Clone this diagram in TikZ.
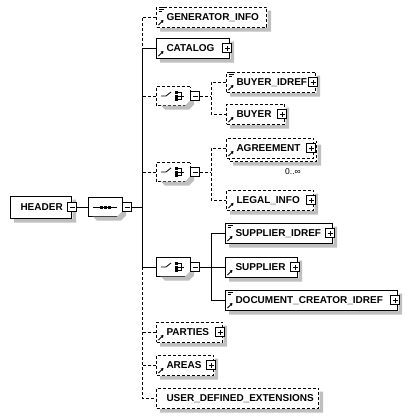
\documentclass[tikz,border=0pt]{standalone}
\usepackage{fontspec}
\setmainfont{Liberation Sans}
\usetikzlibrary{shapes.misc,arrows.meta,calc}
\definecolor{shadowgray}{rgb}{0.75,0.75,0.75}
\newcommand\elfont{\fontsize{10}{11}\selectfont\bfseries}
\newcommand\txtic[1]{\draw[line width=0.6pt] ([shift={(3pt,-0.5pt)}]#1.north west) -- ++(5,0) ([shift={(3pt,-2.5pt)}]#1.north west) -- ++(5,0) ([shift={(3pt,-4.5pt)}]#1.north west) -- ++(3,0);}
\newcommand\refic[1]{\draw[line width=0.9pt,-{Triangle[length=2.5pt,width=3pt]}] ([shift={(2.5pt,2.5pt)}]#1.south west) -- ++(5,-5);}
\newcommand\choiceic[1]{%
  \draw[line width=0.8pt] ([xshift=-12pt]#1.center) -- ++(5,0) -- ++(5,-4);
  \fill ([shift={(2pt,5pt)}]#1.center) rectangle ++(3,3);
  \fill ([shift={(2pt,1.5pt)}]#1.center) rectangle ++(3,3);
  \fill ([shift={(2pt,-2pt)}]#1.center) rectangle ++(3,3);
  \draw[line width=0.8pt] ([shift={(5pt,3.5pt)}]#1.center) -- ++(3,0) -- ++(0,7) -- ++(-3,0)
    ([xshift=5pt]#1.center) -- ++(6,0);}
\newcommand\seqic[1]{%
  \draw[line width=0.8pt] ([xshift=-12pt]#1.center) -- ([xshift=12pt]#1.center);
  \fill ([shift={(-5.5pt,1.5pt)}]#1.center) rectangle ++(3,3);
  \fill ([shift={(-1.5pt,1.5pt)}]#1.center) rectangle ++(3,3);
  \fill ([shift={(2.5pt,1.5pt)}]#1.center) rectangle ++(3,3);}
% L-shaped shadow right of and below a rectangular node
\newcommand\shr[1]{\fill[shadowgray] ([shift={(0.5pt,-4pt)}]#1.north east) rectangle ([shift={(4pt,-4pt)}]#1.south east) ([shift={(4pt,-0.5pt)}]#1.south west) rectangle ([shift={(0.5pt,-4pt)}]#1.south east);}
% crescent shadow of a compositor (34 x 19, chamfer 5)
\newcommand\shc[1]{\fill[shadowgray] ([shift={(16pt,5.5pt)}]#1.center) -- ++(5,5) -- ++(0,9) -- ++(-5,5) -- ++(-24,0) -- ++(-5,-5) -- ++(1,1) -- ++(24,0) -- ++(5,-5) -- ++(0,-9) -- cycle;}
\begin{document}
\begin{tikzpicture}[x=1pt,y=-1pt,line width=1pt,
  dsh/.style={dash pattern=on 3pt off 2pt},
  elbox/.style={draw,fill=white,rectangle,anchor=west,minimum height=20pt,inner sep=0pt,
    text height=7pt,text depth=0pt,align=left,font=\elfont},
  comp/.style={draw,fill=white,chamfered rectangle,chamfered rectangle xsep=5pt,
    minimum width=34pt,minimum height=19pt,inner sep=0pt},
  btn/.style={draw,fill=white,rectangle,minimum size=9pt,inner sep=0pt,line width=1pt},
  plusb/.style={btn,path picture={\draw[line width=1pt]
    ([xshift=2pt]path picture bounding box.west) -- ([xshift=-2pt]path picture bounding box.east)
    ([yshift=2pt]path picture bounding box.south) -- ([yshift=-2pt]path picture bounding box.north);}},
  minusb/.style={btn,path picture={\draw[line width=1pt]
    ([xshift=2pt]path picture bounding box.west) -- ([xshift=-2pt]path picture bounding box.east);}},
  mult/.style={font=\fontsize{8.5}{9}\selectfont}]
\useasboundingbox (0,0) rectangle (411,418);
\coordinate (tr) at (142,0);
\coordinate (br) at (211,0);
% root
\node[elbox,minimum height=22pt,text width=61pt] (header) at (10,207) {\hspace*{10pt}HEADER};
\shr{header}
\node[minusb] (headerm) at (72,207) {};
\node[comp] (seq) at (105,207) {};
\shc{seq}\seqic{seq}
\node[minusb] (seqm) at (127,207) {};
\draw (headerm.east) -- (seq.west);
\draw (seqm.east) -- (seqm.east -| tr);
% sequence children
\node[elbox,dsh,text width=110pt] (gen) at (156,17) {\hspace*{10pt}GENERATOR\_INFO};
\shr{gen}\txtic{gen}\refic{gen}
\node[elbox,text width=73pt] (cat) at (156,48) {\hspace*{10pt}CATALOG};
\shr{cat}
\node[plusb] (catp) at ([xshift=-3pt]cat.east) {};
\refic{cat}
\node[comp,dsh] (buych) at (173,96) {};
\shc{buych}\choiceic{buych}
\node[minusb] (buychm) at (195,96) {};
\node[comp,dsh] (agrch) at (173,172) {};
\shc{agrch}\choiceic{agrch}
\node[minusb] (agrchm) at (195,172) {};
\node[comp] (supch) at (173,267) {};
\shc{supch}\choiceic{supch}
\node[minusb] (supchm) at (195,267) {};
\node[elbox,dsh,text width=66pt] (parties) at (156,332) {\hspace*{10pt}PARTIES};
\shr{parties}
\node[plusb] (partiesp) at ([xshift=-3pt]parties.east) {};
\refic{parties}
\node[elbox,dsh,text width=57pt] (areas) at (156,365) {\hspace*{10pt}AREAS};
\shr{areas}
\node[plusb] (areasp) at ([xshift=-3pt]areas.east) {};
\refic{areas}
\node[elbox,dsh,text width=162pt] (udx) at (156,398) {\hspace*{10pt}USER\_DEFINED\_EXTENSIONS};
\shr{udx}
% trunk
\draw[dsh] (gen.west) -- (gen.west -| tr) -- (cat.west -| tr);
\draw (cat.west) -- (cat.west -| tr) -- (supch.west -| tr) -- (supch.west);
\draw[dsh] (supch.west -| tr) -- (udx.west -| tr) -- (udx.west);
\draw[dsh] (buych.west) -- (buych.west -| tr);
\draw[dsh] (agrch.west) -- (agrch.west -| tr);
\draw[dsh] (parties.west) -- (parties.west -| tr);
\draw[dsh] (areas.west) -- (areas.west -| tr);
% buyer choice
\node[elbox,dsh,text width=89pt] (buyidref) at (226,82) {\hspace*{10pt}BUYER\_IDREF};
\shr{buyidref}
\node[plusb] (buyidrefp) at ([xshift=-3pt]buyidref.east) {};
\txtic{buyidref}\refic{buyidref}
\node[elbox,dsh,text width=58pt] (buyer) at (226,114) {\hspace*{10pt}BUYER};
\shr{buyer}
\node[plusb] (buyerp) at ([xshift=-3pt]buyer.east) {};
\refic{buyer}
\draw[dsh] (buychm.east) -- (buychm.east -| br);
\draw[dsh] (buyidref.west) -- (buyidref.west -| br) -- (buyer.west -| br) -- (buyer.west);
% agreement choice
\node[elbox,dsh,text width=87pt] (agrback) at (229,151) {};
\shr{agrback}
\node[elbox,dsh,text width=87pt] (agr) at (226,148) {\hspace*{10pt}AGREEMENT};
\node[plusb] (agrp) at ([xshift=-3pt]agr.east) {};
\refic{agr}
\node[mult] (agrm) at (293,172) {0..∞};
\node[elbox,dsh,text width=87pt] (legal) at (226,200) {\hspace*{10pt}LEGAL\_INFO};
\shr{legal}
\node[plusb] (legalp) at ([xshift=-3pt]legal.east) {};
\refic{legal}
\draw[dsh] (agrchm.east) -- (agrchm.east -| br);
\draw[dsh] (agr.west) -- (agr.west -| br) -- (legal.west -| br) -- (legal.west);
% supplier choice
\node[elbox,text width=107pt] (supidref) at (225,233) {\hspace*{10pt}SUPPLIER\_IDREF};
\shr{supidref}
\node[plusb] (supidrefp) at ([xshift=-3pt]supidref.east) {};
\txtic{supidref}\refic{supidref}
\node[elbox,text width=72pt] (supplier) at (225,267) {\hspace*{10pt}SUPPLIER};
\shr{supplier}
\node[plusb] (supplierp) at ([xshift=-3pt]supplier.east) {};
\refic{supplier}
\node[elbox,text width=172pt] (dci) at (225,300) {\hspace*{10pt}DOCUMENT\_CREATOR\_IDREF};
\shr{dci}
\node[plusb] (dcip) at ([xshift=-3pt]dci.east) {};
\txtic{dci}\refic{dci}
\draw (supchm.east) -- (supchm.east -| br);
\draw (supidref.west) -- (supidref.west -| br) -- (dci.west -| br) -- (dci.west);
\draw (supplier.west -| br) -- (supplier.west);
\end{tikzpicture}
\end{document}
